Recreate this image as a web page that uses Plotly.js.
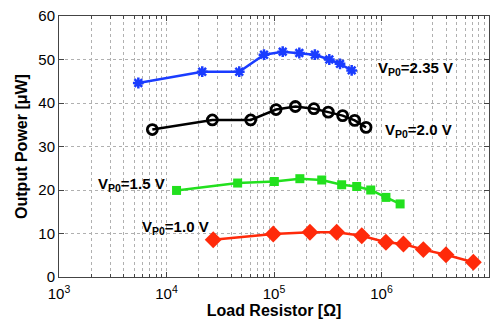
<!DOCTYPE html>
<html>
<head>
<meta charset="utf-8">
<script src="https://cdn.plot.ly/plotly-3.0.1.min.js"></script>
<style>
html,body{margin:0;padding:0;background:#fff;}
#chart{width:500px;height:324px;}
</style>
</head>
<body>
<div id="chart"></div>
<script>
// Data
var rV235 = [5470, 21500, 47500, 80700, 120500, 172000, 240000, 327000, 411000, 528000];
var pV235 = [44.6, 47.2, 47.2, 51.1, 51.8, 51.5, 51.1, 50.0, 49.0, 47.5];

var rV20 = [7380, 26700, 60700, 104500, 158000, 235000, 320000, 435000, 563000, 718000];
var pV20 = [33.9, 36.1, 36.1, 38.5, 39.2, 38.7, 37.9, 37.1, 36.0, 34.4];

var rV15 = [12400, 45900, 100700, 174000, 278000, 426000, 588000, 794000, 1100000, 1490000];
var pV15 = [19.9, 21.6, 21.95, 22.6, 22.3, 21.2, 20.8, 20.0, 18.3, 16.8];

var rV10 = [27200, 98400, 216000, 383000, 655000, 1100000, 1600000, 2450000, 3980000, 7150000];
var pV10 = [8.55, 9.9, 10.3, 10.3, 9.5, 8.0, 7.6, 6.3, 5.1, 3.4];

var xTickVals = [1e3, 1e4, 1e5, 1e6, 1e7];
var xTickText = ['10<sup>3</sup>', '10<sup>4</sup>', '10<sup>5</sup>', '10<sup>6</sup>', '10<sup>7</sup>'];
var yTickVals = [0, 10, 20, 30, 40, 50, 60];

var labels = ['V<sub>P0</sub>=2.35 V', 'V<sub>P0</sub>=2.0 V', 'V<sub>P0</sub>=1.5 V', 'V<sub>P0</sub>=1.0 V'];

var gridCol = '#b0b0b0';
var traces = [
  {x: rV235, y: pV235, mode: 'lines+markers', line: {color: '#1a3cff', width: 2.5},
   marker: {symbol: 'asterisk-open', size: 9, color: '#1a3cff', line: {color: '#1a3cff', width: 2.5}}},
  {x: rV20, y: pV20, mode: 'lines+markers', line: {color: '#000000', width: 2.5},
   marker: {symbol: 'circle-open', size: 10, color: '#000000', line: {color: '#000000', width: 2.8}}},
  {x: rV15, y: pV15, mode: 'lines+markers', line: {color: '#22e01e', width: 2.5},
   marker: {symbol: 'square', size: 9, color: '#22e01e'}},
  {x: rV10, y: pV10, mode: 'lines+markers', line: {color: '#ff2a0a', width: 2.5},
   marker: {symbol: 'diamond', size: 13, color: '#ff2a0a'}}
];

var annFont = {family: 'Liberation Sans, Arial, sans-serif', size: 15, color: '#000'};
var layout = {
  width: 500, height: 324,
  margin: {l: 59, r: 11, t: 16, b: 47},
  paper_bgcolor: '#fff', plot_bgcolor: '#fff',
  showlegend: false,
  font: {family: 'Liberation Sans, Arial, sans-serif', size: 15, color: '#000'},
  xaxis: {
    type: 'log', range: [3, 7],
    tickmode: 'array', tickvals: xTickVals, ticktext: xTickText,
    ticks: 'inside', ticklen: 5, tickcolor: '#444',
    ticklabelstandoff: 3,
    showline: true, linecolor: '#444', linewidth: 1, mirror: 'ticks',
    showgrid: true, gridcolor: gridCol, griddash: 'dot', gridwidth: 1,
    zeroline: false,
    minor: {dtick: 'D1', showgrid: true, gridcolor: gridCol, griddash: 'dot', gridwidth: 1, ticks: 'inside', ticklen: 3, tickcolor: '#444'},
    title: {text: '<b>Load Resistor [Ω]</b>', font: {size: 16}, standoff: 3},
    tickfont: {size: 15}
  },
  yaxis: {
    range: [0, 60], tickmode: 'array', tickvals: yTickVals,
    ticks: 'inside', ticklen: 5, tickcolor: '#444',
    showline: true, linecolor: '#444', linewidth: 1, mirror: 'ticks',
    showgrid: true, gridcolor: gridCol, griddash: 'dot', gridwidth: 1,
    zeroline: false,
    title: {text: '<b>Output Power [μW]</b>', font: {size: 16}, standoff: 6},
    tickfont: {size: 15}
  },
  annotations: [
    {x: 5.949, y: 47.9, xref: 'x', yref: 'y', text: '<b>' + labels[0] + '</b>', showarrow: false, xanchor: 'left', yanchor: 'middle', font: annFont},
    {x: 6.011, y: 33.7, xref: 'x', yref: 'y', text: '<b>' + labels[1] + '</b>', showarrow: false, xanchor: 'left', yanchor: 'middle', font: annFont},
    {x: 3.344, y: 21.3, xref: 'x', yref: 'y', text: '<b>' + labels[2] + '</b>', showarrow: false, xanchor: 'left', yanchor: 'middle', font: annFont},
    {x: 3.753, y: 11.4, xref: 'x', yref: 'y', text: '<b>' + labels[3] + '</b>', showarrow: false, xanchor: 'left', yanchor: 'middle', font: annFont}
  ]
};

Plotly.newPlot('chart', traces, layout, {displayModeBar: false, staticPlot: true});
</script>
</body>
</html>
